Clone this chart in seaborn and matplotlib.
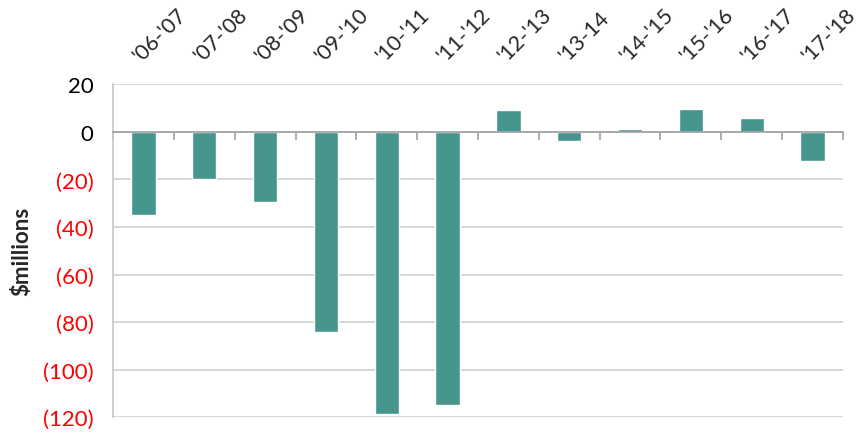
import numpy as np
import pandas as pd
import matplotlib
matplotlib.use("Agg")
import matplotlib.pyplot as plt
import seaborn as sns

# Dados (milhões de dólares)
seasons = ["'06-'07", "'07-'08", "'08-'09", "'09-'10", "'10-'11", "'11-'12",
           "'12-'13", "'13-14", "'14-'15", "'15-'16", "'16-'17", "'17-'18"]
values = [-35, -20, -29.5, -84, -118.5, -115, 9, -4, 1.2, 9.5, 5.9, -12.3]
y_ticks = [20, 0, -20, -40, -60, -80, -100, -120]

BAR_COLOR = "#46968E"
GRID_COLOR = "#D0D0D0"

sns.set_theme(style="white")
plt.rcParams["font.family"] = ["Lato", "DejaVu Sans"]

df = pd.DataFrame({"Season": seasons, "Value": values})

fig = plt.figure(figsize=(8.66, 4.35), dpi=100)
ax = fig.add_axes([0.1305, 0.0384, 0.8429, 0.7656])

sns.barplot(data=df, x="Season", y="Value", color=BAR_COLOR, width=0.4,
            saturation=1, ax=ax, zorder=3)

ax.set_ylim(-120, 20)
ax.set_xlim(-0.5, len(seasons) - 0.5)

# eixo y com negativos entre parênteses e em vermelho
labels = [f"({abs(v)})" if v < 0 else str(v) for v in y_ticks]
ax.set_yticks(y_ticks)
ax.set_yticklabels(labels, fontsize=16)
for lab, v in zip(ax.get_yticklabels(), y_ticks):
    lab.set_color("red" if v < 0 else "black")
ax.tick_params(axis="y", length=0, pad=14)
ax.yaxis.grid(True, color=GRID_COLOR, linewidth=1.2, zorder=0)

# eixo x cruzando no zero, rótulos no topo
ax.spines["bottom"].set_position(("data", 0))
ax.spines["bottom"].set_color("#A0A0A0")
ax.spines["bottom"].set_linewidth(1.2)
ax.spines["bottom"].set_zorder(4)
ax.spines["left"].set_color("#C8C8C8")
ax.spines["top"].set_visible(False)
ax.spines["right"].set_visible(False)

ax.set_xticks(np.arange(len(seasons) + 1) - 0.5, minor=True)
ax.tick_params(axis="x", which="minor", bottom=True, direction="out",
               length=6, color="#A0A0A0", width=1.2)
ax.tick_params(axis="x", which="major", bottom=False, top=False,
               labelbottom=False, labeltop=True, length=0, pad=14)
ax.set_xticks(range(len(seasons)))
ax.set_xticklabels(seasons, rotation=45, ha="left", va="bottom",
                   rotation_mode="anchor", fontsize=15.5)
for lab in ax.get_xticklabels():
    x, y = lab.get_position()
    lab.set_x(x - 0.04)

ax.set_xlabel("")
ax.set_ylabel("$millions", fontsize=16, fontweight="bold", labelpad=8)

fig.savefig("out.png", dpi=100)
plt.close(fig)
